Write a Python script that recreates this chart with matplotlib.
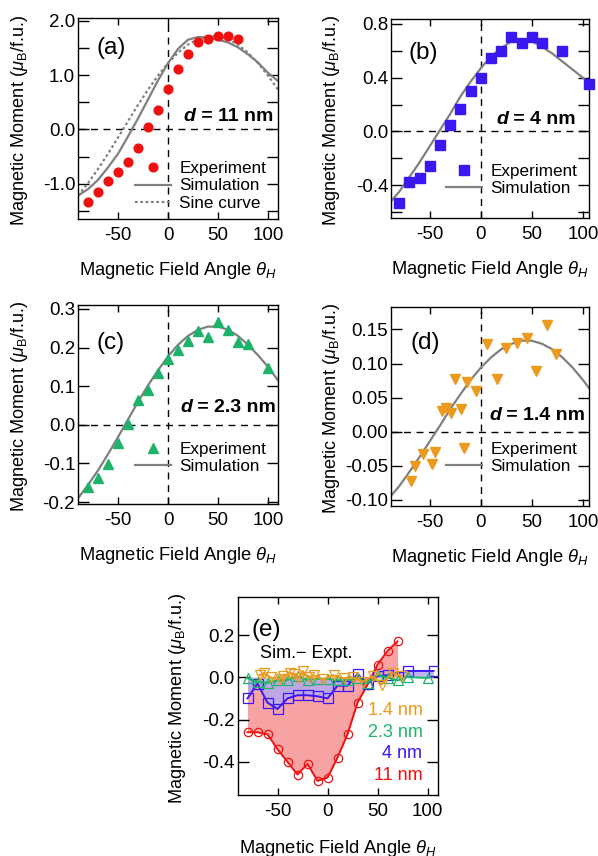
import numpy as np
import matplotlib
matplotlib.use("Agg")
import matplotlib.pyplot as plt
from matplotlib.ticker import MultipleLocator, FormatStrFormatter

plt.rcParams['font.family'] = ['Liberation Sans', 'DejaVu Sans']
plt.rcParams['mathtext.fontset'] = 'custom'
plt.rcParams['mathtext.rm'] = 'Liberation Sans'
plt.rcParams['mathtext.it'] = 'Liberation Sans:italic'
plt.rcParams['mathtext.bf'] = 'Liberation Sans:bold'
plt.rcParams['axes.unicode_minus'] = False

# ---- (a) d = 11 nm
a_exp_x = [-80, -70, -60, -50, -40, -30, -20, -10, 0, 10, 20, 30, 40, 50, 60, 70]
a_exp_y = [-1.33, -1.16, -0.95, -0.79, -0.60, -0.35, 0.04, 0.35, 0.74, 1.12, 1.38, 1.60, 1.67, 1.71, 1.72, 1.66]
a_sim_x = [-90, -80, -70, -60, -50, -40, -30, -20, -10, 0, 10, 20, 30, 40, 50, 60, 70, 80, 90, 100, 110]
a_sim_y = [-1.22, -1.10, -0.93, -0.70, -0.45, -0.13, 0.20, 0.55, 0.90, 1.22, 1.48, 1.65, 1.70, 1.69, 1.65, 1.60, 1.51, 1.38, 1.23, 1.04, 0.89]
a_sin_y = [-1.22, -0.99, -0.73, -0.45, -0.15, 0.15, 0.45, 0.73, 0.99, 1.22, 1.41, 1.56, 1.66, 1.71, 1.71, 1.66, 1.56, 1.41, 1.22, 0.99, 0.73]

# ---- (b) d = 4 nm
b_exp_x = [-80, -70, -60, -50, -40, -30, -20, -10, 0, 10, 20, 30, 40, 50, 60, 80, 106]
b_exp_y = [-0.53, -0.376, -0.35, -0.26, -0.10, 0.047, 0.166, 0.30, 0.40, 0.55, 0.60, 0.70, 0.66, 0.70, 0.66, 0.60, 0.35]
b_sim_x = [-88, -80, -70, -60, -50, -40, -30, -20, -10, 0, 10, 20, 30, 40, 50, 60, 70, 80, 90, 100, 106]
b_sim_y = [-0.52, -0.45, -0.34, -0.23, -0.11, 0.01, 0.13, 0.26, 0.37, 0.47, 0.56, 0.62, 0.67, 0.68, 0.67, 0.63, 0.58, 0.52, 0.46, 0.40, 0.36]

# ---- (c) d = 2.3 nm
c_exp_x = [-80, -70, -60, -50, -40, -30, -20, -10, 0, 10, 20, 30, 40, 50, 60, 70, 80, 100]
c_exp_y = [-0.161, -0.139, -0.102, -0.047, 0.001, 0.064, 0.09, 0.134, 0.169, 0.193, 0.217, 0.243, 0.227, 0.265, 0.245, 0.215, 0.208, 0.147]
c_sim_x = [-90, -80, -70, -60, -50, -40, -30, -20, -10, 0, 10, 20, 30, 40, 50, 60, 70, 80, 90, 100, 110]
c_sim_y = [-0.19, -0.156, -0.118, -0.076, -0.032, 0.014, 0.059, 0.102, 0.141, 0.177, 0.207, 0.230, 0.246, 0.254, 0.254, 0.246, 0.230, 0.207, 0.18, 0.15, 0.115]

# ---- (d) d = 1.4 nm
d_exp_x = [-68, -64, -57, -48, -45, -38, -34, -29, -25, -19, -14, -5, 6, 16, 25, 35, 45, 54, 65, 74]
d_exp_y = [-0.073, -0.051, -0.033, -0.047, -0.030, 0.031, 0.035, 0.028, 0.077, 0.033, 0.073, 0.060, 0.128, 0.077, 0.123, 0.130, 0.138, 0.089, 0.156, 0.114]
d_sim_x = [-88, -80, -70, -60, -50, -40, -30, -20, -10, 0, 10, 20, 30, 40, 50, 60, 70, 80, 90, 100, 107]
d_sim_y = [-0.094, -0.080, -0.059, -0.037, -0.014, 0.009, 0.033, 0.055, 0.076, 0.094, 0.109, 0.121, 0.129, 0.1335, 0.1335, 0.129, 0.121, 0.109, 0.094, 0.076, 0.062]

# ---- (e) Sim. - Expt.
e11_x = [-80, -70, -60, -50, -40, -30, -20, -10, 0, 10, 20, 30, 40, 50, 60, 70]
e11_y = [-0.26, -0.26, -0.27, -0.34, -0.40, -0.46, -0.41, -0.49, -0.475, -0.38, -0.27, -0.12, -0.035, 0.06, 0.125, 0.17]
e4_x = [-80, -70, -60, -50, -40, -30, -20, -10, 0, 10, 20, 30, 40, 50, 60, 80, 106]
e4_y = [-0.10, -0.03, -0.12, -0.15, -0.10, -0.085, -0.085, -0.09, -0.10, -0.04, -0.04, 0.015, -0.03, 0.005, 0.01, 0.03, 0.03]
e23_x = [-80, -70, -60, -50, -40, -30, -20, -10, 0, 10, 20, 30, 40, 50, 60, 70, 80, 100]
e23_y = [-0.005, -0.021, -0.026, -0.015, -0.013, 0.005, -0.012, -0.007, -0.008, -0.014, -0.013, -0.003, -0.027, 0.011, -0.001, -0.015, 0.001, -0.003]
e14_x = [-68, -64, -57, -48, -45, -38, -34, -29, -25, -19, -14, -5, 6, 16, 25, 35, 45, 54, 65, 74]
e14_y = [0.01, 0.02, 0.0, -0.01, 0.005, 0.02, 0.015, -0.005, 0.03, 0.0, 0.01, -0.01, 0.01, -0.005, 0.0, -0.02, 0.005, -0.035, 0.02, 0.005]

RED = '#f01010'
BLUE = '#3a18f0'
GREEN = '#1db36b'
ORANGE = '#eb9a1e'
GRAY = '#808080'

FS = 13.5
LAB_FS = 13.1
LEG_FS = 12.3

fig = plt.figure(figsize=(5.98, 8.56), dpi=100)


def style_axes(ax, xlim, ylim, ymajor, yminor=None, fmt=None, ylab_x=-0.24):
    ax.set_xlim(*xlim)
    ax.set_ylim(*ylim)
    ax.xaxis.set_major_locator(MultipleLocator(50))
    ax.yaxis.set_major_locator(MultipleLocator(ymajor))
    if yminor:
        ax.yaxis.set_minor_locator(MultipleLocator(yminor))
    if fmt:
        ax.yaxis.set_major_formatter(FormatStrFormatter(fmt))
    ax.tick_params(axis='both', which='both', direction='in', top=True, right=True,
                   labelsize=FS, width=1.0)
    ax.tick_params(axis='x', which='major', length=5, pad=6)
    ax.tick_params(axis='y', which='both', length=8, pad=2)
    for s in ax.spines.values():
        s.set_linewidth(1.0)
    ax.axhline(0, color='black', lw=1.0, ls=(0, (5, 4)), zorder=1)
    ax.axvline(0, color='black', lw=1.0, ls=(0, (5, 4)), zorder=1)
    ax.set_ylabel(r'Magnetic Moment ($\mu_\mathrm{B}$/f.u.)', fontsize=LAB_FS)
    ax.yaxis.set_label_coords(ylab_x, 0.49)
    ax.set_xlabel(r'Magnetic Field Angle $\theta_H$', fontsize=13.2)
    ax.xaxis.set_label_coords(0.5, -0.205)


def thickness(ax, x, y, txt):
    t = ax.text(x, y, ' = ' + txt, transform=ax.transAxes, ha='right', va='center',
                fontsize=14, fontweight='bold')
    ax.annotate('d', xy=(0, 0), xycoords=t, ha='right', va='bottom',
                fontsize=14, fontweight='bold', style='italic')


def legend(ax, order, y0):
    h, l = ax.get_legend_handles_labels()
    ax.legend([h[i] for i in order], [l[i] for i in order], loc='lower right',
              bbox_to_anchor=(1.0, y0), frameon=False, fontsize=LEG_FS, handlelength=2.1,
              handletextpad=0.5, labelspacing=0.15, borderaxespad=0.3)


# (a)
ax = fig.add_axes([78 / 598, 1 - 219 / 856, 200 / 598, 201 / 856])
style_axes(ax, (-90, 110), (-1.65, 2.05), 1.0, 0.5, fmt='%.1f')
ax.plot(a_sim_x, a_sin_y, color=GRAY, lw=1.6, ls=(0, (1.2, 1.2)), label='Sine curve', zorder=2)
ax.plot(a_sim_x, a_sim_y, color=GRAY, lw=1.6, label='Simulation', zorder=2)
ax.plot(a_exp_x, a_exp_y, 'o', color=RED, ms=6.3, mec=RED, label='Experiment', zorder=3)
legend(ax, [2, 1, 0], -0.02)
ax.text(0.095, 0.85, '(a)', transform=ax.transAxes, fontsize=17.5, va='center')
thickness(ax, 0.975, 0.51, '11 nm')

# (b)
ax = fig.add_axes([391 / 598, 1 - 218 / 856, 198 / 598, 199 / 856])
style_axes(ax, (-88, 106), (-0.645, 0.837), 0.4, 0.2, ylab_x=-0.25)
ax.plot(b_sim_x, b_sim_y, color=GRAY, lw=1.6, label='Simulation', zorder=2)
ax.plot(b_exp_x, b_exp_y, 's', color=BLUE, ms=6.8, label='Experiment', zorder=3, clip_on=False)
legend(ax, [1, 0], 0.05)
ax.text(0.087, 0.83, '(b)', transform=ax.transAxes, fontsize=17.5, va='center')
thickness(ax, 0.934, 0.495, '4 nm')

# (c)
ax = fig.add_axes([78 / 598, 1 - 504 / 856, 200 / 598, 199 / 856])
style_axes(ax, (-90, 110), (-0.205, 0.31), 0.1)
ax.plot(c_sim_x, c_sim_y, color=GRAY, lw=1.6, label='Simulation', zorder=2)
ax.plot(c_exp_x, c_exp_y, '^', color=GREEN, ms=7.5, label='Experiment', zorder=3)
legend(ax, [1, 0], 0.09)
ax.text(0.093, 0.81, '(c)', transform=ax.transAxes, fontsize=17.5, va='center')
thickness(ax, 0.99, 0.486, '2.3 nm')

# (d)
ax = fig.add_axes([391 / 598, 1 - 506 / 856, 198 / 598, 199 / 856])
style_axes(ax, (-88, 106), (-0.109, 0.183), 0.05, ylab_x=-0.25)
ax.plot(d_sim_x, d_sim_y, color=GRAY, lw=1.6, label='Simulation', zorder=2)
ax.plot(d_exp_x, d_exp_y, 'v', color=ORANGE, ms=7.5, label='Experiment', zorder=3)
legend(ax, [1, 0], 0.1)
ax.text(0.096, 0.82, '(d)', transform=ax.transAxes, fontsize=17.5, va='center')
thickness(ax, 0.98, 0.457, '1.4 nm')

# (e)
ax = fig.add_axes([237.5 / 598, 1 - 795 / 856, 200 / 598, 198 / 856])
ax.set_xlim(-90, 110)
ax.set_ylim(-0.557, 0.38)
ax.xaxis.set_major_locator(MultipleLocator(50))
ax.yaxis.set_major_locator(MultipleLocator(0.2))
ax.tick_params(axis='both', which='both', direction='in', top=True, right=True,
               labelsize=FS, width=1.0)
ax.tick_params(axis='x', length=5, pad=6)
ax.tick_params(axis='y', length=8, pad=2)
ax.fill_between(e11_x, e11_y, 0, color='#f7a3a3', lw=0, zorder=1)
ax.fill_between(e4_x, e4_y, 0, color='#b4a8f0', alpha=0.85, lw=0, zorder=2)
ax.fill_between(e23_x, e23_y, 0, color='#a8e0c0', alpha=0.7, lw=0, zorder=2)
ax.fill_between(e14_x, e14_y, 0, color='#f0cc90', alpha=0.7, lw=0, zorder=2)
ax.plot(e11_x, e11_y, '-o', color=RED, lw=1.4, ms=6, mfc='none', mew=0.9, zorder=3)
ax.plot(e4_x, e4_y, '-s', color=BLUE, lw=1.4, ms=6.5, mfc='none', mew=0.9, zorder=4)
ax.plot(e23_x, e23_y, '-^', color=GREEN, lw=1.4, ms=6.5, mfc='none', mew=0.9, zorder=5)
ax.plot(e14_x, e14_y, '-v', color=ORANGE, lw=1.4, ms=6.5, mfc='none', mew=0.9, zorder=6)
for s in ax.spines.values():
    s.set_linewidth(1.0)
ax.set_ylabel(r'Magnetic Moment ($\mu_\mathrm{B}$/f.u.)', fontsize=LAB_FS)
ax.yaxis.set_label_coords(-0.25, 0.49)
ax.set_xlabel(r'Magnetic Field Angle $\theta_H$', fontsize=13.2)
ax.xaxis.set_label_coords(0.5, -0.215)
ax.text(0.07, 0.835, '(e)', transform=ax.transAxes, fontsize=17.5, va='center')
ax.text(-68, 0.113, 'Sim.\u2212 Expt.', fontsize=13, va='center')
for txt, yy, col in [('1.4 nm', -0.157, ORANGE), ('2.3 nm', -0.259, GREEN),
                     ('4 nm', -0.359, BLUE), ('11 nm', -0.463, RED)]:
    ax.text(95, yy, txt, color=col, fontsize=13, ha='right', va='center')

fig.savefig('out.png', dpi=100)
